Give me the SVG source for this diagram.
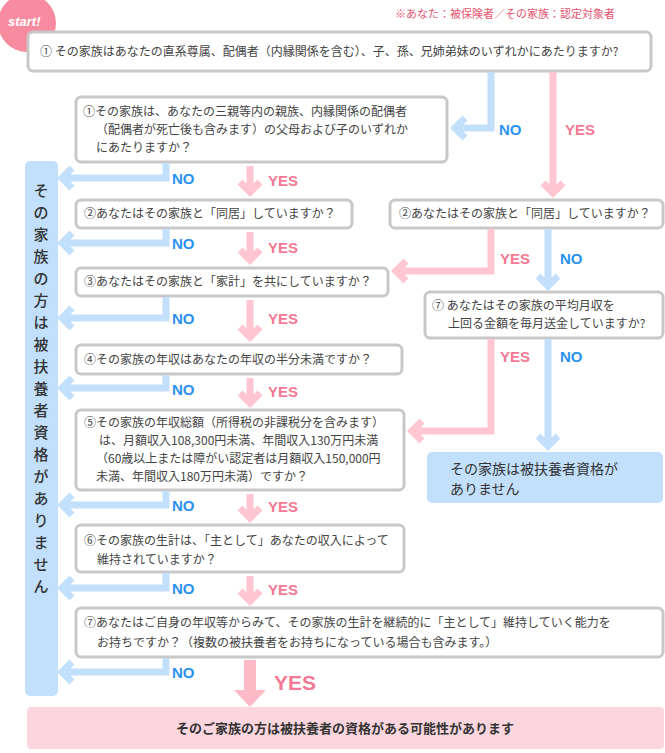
<svg xmlns="http://www.w3.org/2000/svg" width="665" height="753" viewBox="0 0 665 753">
<style>
.n{fill:#fff;stroke:#c8c8c8;stroke-width:3}
.t{font-family:"Noto Sans CJK JP","Liberation Sans",sans-serif;font-size:12px;fill:#444}
.b{fill:none;stroke:#c2e0fc;stroke-width:7;stroke-linejoin:miter}
.p{fill:none;stroke:#ffc5d0;stroke-width:7;stroke-linejoin:miter}
.no{font-family:"Liberation Sans",sans-serif;font-weight:bold;font-size:15px;fill:#2b92f0}
.yes{font-family:"Liberation Sans",sans-serif;font-weight:bold;font-size:15px;fill:#f57994}
</style>
<rect width="665" height="753" fill="#fff"/>
<text x="395" y="18" style="font-family:'Noto Sans CJK JP',sans-serif;font-size:11px;fill:#e5536e">※あなた：被保険者／その家族：認定対象者</text>
<g id="start"><circle cx="27" cy="23" r="29" fill="#f98ba0"/><text x="8" y="26" style="font-family:'Liberation Sans',sans-serif;font-style:italic;font-weight:bold;font-size:13px;fill:#fff">start!</text></g>
<g id="q1"><rect class="n" x="28" y="32" width="623" height="39" rx="5"/><text class="t" x="40" y="56">①  その家族はあなたの直系尊属、配偶者（内縁関係を含む）、子、孫、兄姉弟妹のいずれかにあたりますか?</text></g>
<g id="q1b"><rect class="n" x="76" y="97" width="371" height="65" rx="5"/><text class="t" x="83" y="116">①その家族は、あなたの三親等内の親族、内縁関係の配偶者</text><text class="t" x="96" y="134">（配偶者が死亡後も含みます）の父母および子のいずれか</text><text class="t" x="96" y="152">にあたりますか？</text></g>
<g id="left"><rect x="25" y="161" width="33" height="535" rx="5" fill="#c2e0fc"/>
<text style="font-family:'Noto Sans CJK JP',sans-serif;font-size:15px;font-weight:500;fill:#333" text-anchor="middle">
<tspan x="41" y="196">そ</tspan><tspan x="41" y="218">の</tspan><tspan x="41" y="240">家</tspan><tspan x="41" y="262">族</tspan><tspan x="41" y="284">の</tspan><tspan x="41" y="306">方</tspan><tspan x="41" y="328">は</tspan><tspan x="41" y="350">被</tspan><tspan x="41" y="372">扶</tspan><tspan x="41" y="394">養</tspan><tspan x="41" y="416">者</tspan><tspan x="41" y="438">資</tspan><tspan x="41" y="460">格</tspan><tspan x="41" y="482">が</tspan><tspan x="41" y="504">あ</tspan><tspan x="41" y="526">り</tspan><tspan x="41" y="548">ま</tspan><tspan x="41" y="570">せ</tspan><tspan x="41" y="592">ん</tspan></text></g>
<g id="q2"><rect class="n" x="76" y="200" width="276" height="28" rx="5"/><text class="t" x="84" y="218">②あなたはその家族と「同居」していますか？</text></g>
<g id="q2r"><rect class="n" x="390" y="200" width="273" height="28" rx="5"/><text class="t" x="399" y="218">②あなたはその家族と「同居」していますか？</text></g>
<g id="q3"><rect class="n" x="76" y="268" width="312" height="28" rx="5"/><text class="t" x="84" y="286">③あなたはその家族と「家計」を共にしていますか？</text></g>
<g id="q7r"><rect class="n" x="425" y="292" width="238" height="46" rx="5"/><text class="t" x="432" y="310">⑦ あなたはその家族の平均月収を</text><text class="t" x="448" y="328">上回る金額を毎月送金していますか?</text></g>
<g id="ngr"><rect x="427" y="452" width="236" height="51" rx="5" fill="#c2e0fc"/><text style="font-family:'Noto Sans CJK JP',sans-serif;font-size:14px;fill:#333" x="450" y="474">その家族は被扶養者資格が</text><text style="font-family:'Noto Sans CJK JP',sans-serif;font-size:14px;fill:#333" x="450" y="494">ありません</text></g>
<g id="q4"><rect class="n" x="76" y="345" width="326" height="29" rx="5"/><text class="t" x="84" y="364">④その家族の年収はあなたの年収の半分未満ですか？</text></g>
<g id="q5"><rect class="n" x="76" y="410" width="328" height="80" rx="5"/><text class="t" x="84" y="427">⑤その家族の年収総額（所得税の非課税分を含みます）</text><text class="t" x="99" y="445">は、月額収入108,300円未満、年間収入130万円未満</text><text class="t" x="96" y="463">（60歳以上または障がい認定者は月額収入150,000円</text><text class="t" x="96" y="481">未満、年間収入180万円未満）ですか？</text></g>
<g id="q6"><rect class="n" x="76" y="525" width="328" height="47" rx="5"/><text class="t" x="84" y="545">⑥その家族の生計は、「主として」あなたの収入によって</text><text class="t" x="97" y="564">維持されていますか？</text></g>
<g id="q7"><rect class="n" x="76" y="608" width="587" height="49" rx="5"/><text class="t" x="84" y="627">⑦あなたはご自身の年収等からみて、その家族の生計を継続的に「主として」維持していく能力を</text><text class="t" x="97" y="647">お持ちですか？（複数の被扶養者をお持ちになっている場合も含みます。）</text></g>
<g id="end"><rect x="27" y="707" width="637" height="42" rx="4" fill="#fcd6de"/><text x="345" y="733" text-anchor="middle" style="font-family:'Noto Sans CJK JP',sans-serif;font-size:13px;font-weight:bold;fill:#333">そのご家族の方は被扶養者の資格がある可能性があります</text></g>
<g id="connectors">
<path class="p" d="M553 72V193M543 183l10 10 10-10"/><text class="yes" x="565" y="135">YES</text>
<path class="b" d="M491 72V128H455M465 118l-10 10 10 10"/><text class="no" x="499" y="135">NO</text>
<path class="b" d="M166 163V178H62M72 168l-10 10 10 10"/><text class="no" x="172" y="184">NO</text>
<path class="p" d="M250 166V192M240 182l10 10 10-10"/><text class="yes" x="268" y="186">YES</text>
<path class="b" d="M166 229V243H62M72 233l-10 10 10 10"/><text class="no" x="172" y="249">NO</text>
<path class="p" d="M250 232V260M240 250l10 10 10-10"/><text class="yes" x="268" y="253">YES</text>
<path class="p" d="M491 229V271H396M406 261l-10 10 10 10"/><text class="yes" x="500" y="264">YES</text>
<path class="b" d="M548 229V286M538 276l10 10 10-10"/><text class="no" x="560" y="264">NO</text>
<path class="b" d="M166 297V318H62M72 308l-10 10 10 10"/><text class="no" x="172" y="324">NO</text>
<path class="p" d="M250 300V337M240 327l10 10 10-10"/><text class="yes" x="268" y="324">YES</text>
<path class="p" d="M491 339V431H412M422 421l-10 10 10 10"/><text class="yes" x="500" y="362">YES</text>
<path class="b" d="M548 339V446M538 436l10 10 10-10"/><text class="no" x="560" y="362">NO</text>
<path class="b" d="M166 375V388H62M72 378l-10 10 10 10"/><text class="no" x="172" y="395">NO</text>
<path class="p" d="M250 378V403M240 393l10 10 10-10"/><text class="yes" x="268" y="397">YES</text>
<path class="b" d="M166 491V505H62M72 495l-10 10 10 10"/><text class="no" x="172" y="511">NO</text>
<path class="p" d="M250 494V518M240 508l10 10 10-10"/><text class="yes" x="268" y="512">YES</text>
<path class="b" d="M166 573V588H62M72 578l-10 10 10 10"/><text class="no" x="172" y="594">NO</text>
<path class="p" d="M250 576V601M240 591l10 10 10-10"/><text class="yes" x="268" y="595">YES</text>
<path class="b" d="M166 658V672H62M72 662l-10 10 10 10"/><text class="no" x="172" y="678">NO</text>
<path d="M250 660V695" stroke="#fcb9c6" stroke-width="12" fill="none"/><path d="M234 690h32l-16 17z" fill="#fcb9c6"/>
<text x="274" y="690" style="font-family:'Liberation Sans',sans-serif;font-weight:bold;font-size:21px;fill:#f57994">YES</text>
</g>
</svg>
